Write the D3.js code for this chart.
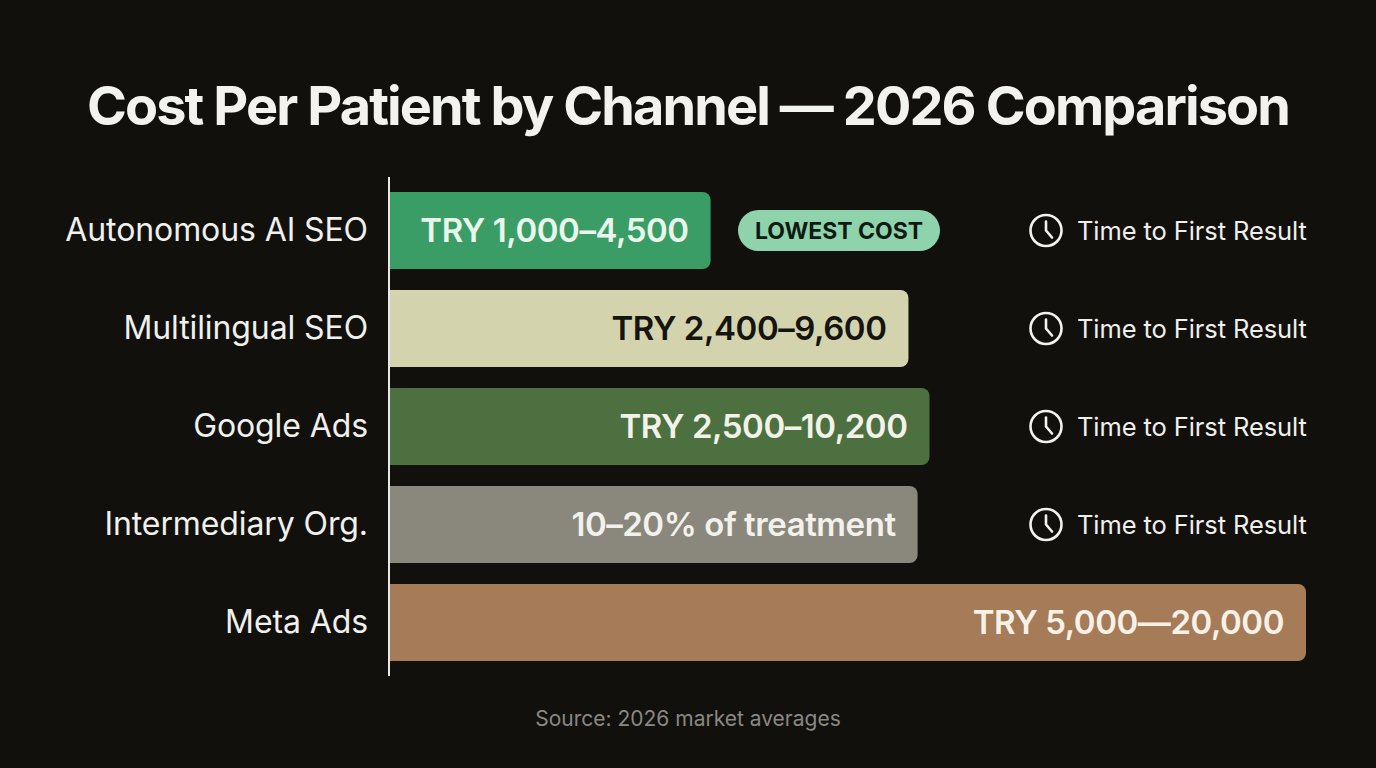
<!DOCTYPE html>
<html>
<head>
<meta charset="utf-8">
<script src="https://cdn.jsdelivr.net/npm/d3@7/dist/d3.min.js"></script>
<style>
  html, body { margin: 0; padding: 0; background: #12100c; }
  svg { display: block; }
  text { font-family: Inter, "Noto Sans", sans-serif; }
</style>
</head>
<body>
<svg id="chart" width="1376" height="768"></svg>
<script>
// ---- data ----
const channels = ["Autonomous AI SEO", "Multilingual SEO", "Google Ads", "Intermediary Org.", "Meta Ads"];
const costLabels = ["TRY 1,000–4,500", "TRY 2,400–9,600", "TRY 2,500–10,200", "10–20% of treatment", "TRY 5,000—20,000"];
// relative bar length (Meta Ads = 100)
const barLength = [35, 56.6, 58.9, 57.6, 100];
const barColors = ["#3a9d66", "#d3d4ae", "#4d7040", "#8a877c", "#a57b58"];
const labelColors = ["#eaf6ec", "#15140f", "#f2f2e8", "#f2f1ec", "#f7f1e8"];
const showClock = [true, true, true, true, false];
const clockText = "Time to First Result";
const badgeText = "LOWEST COST";
const titleText = "Cost Per Patient by Channel — 2026 Comparison";
const sourceText = "Source: 2026 market averages";

const svg = d3.select("#chart");
const W = 1376;

svg.append("rect").attr("width", W).attr("height", 768).attr("fill", "#12100c");

// helper: fit text to a target width via letter-spacing
function fitWidth(sel, target) {
  const n = sel.text().length;
  const w = sel.node().getComputedTextLength();
  if (w > 0 && n > 1) sel.attr("letter-spacing", (target - w) / (n - 1));
}

// title
const title = svg.append("text")
  .attr("x", W / 2).attr("y", 125)
  .attr("text-anchor", "middle")
  .attr("fill", "#f2f2ee")
  .attr("font-size", 54)
  .attr("font-weight", 700)
  .text(titleText);
fitWidth(title, 1204);

// scales
const x = d3.scaleLinear().domain([0, 100]).range([390, 1306]);
const y = d3.scaleBand().domain(channels).range([181.5, 671.5])
  .paddingInner(0.214).paddingOuter(0.107);

const rows = channels.map((c, i) => ({
  name: c, len: barLength[i], label: costLabels[i],
  color: barColors[i], tcolor: labelColors[i], clock: showClock[i], i
}));

// bars
svg.append("g").selectAll("rect").data(rows).join("rect")
  .attr("x", x(0))
  .attr("y", d => y(d.name))
  .attr("width", d => x(d.len) - x(0))
  .attr("height", y.bandwidth())
  .attr("rx", 8)
  .attr("fill", d => d.color);

// square off left corners
svg.append("g").selectAll("rect").data(rows).join("rect")
  .attr("x", x(0))
  .attr("y", d => y(d.name))
  .attr("width", 12)
  .attr("height", y.bandwidth())
  .attr("fill", d => d.color);

// value labels inside bars
svg.append("g").selectAll("text").data(rows).join("text")
  .attr("x", d => x(d.len) - 22)
  .attr("y", d => y(d.name) + y.bandwidth() / 2)
  .attr("dy", "0.36em")
  .attr("text-anchor", "end")
  .attr("fill", d => d.tcolor)
  .attr("font-size", 33)
  .attr("font-weight", 600)
  .attr("letter-spacing", -0.45)
  .text(d => d.label);

// category axis
const yAxis = d3.axisLeft(y).tickSize(0).tickPadding(21);
const ga = svg.append("g").attr("transform", `translate(${x(0) - 1},0)`).call(yAxis);
ga.select(".domain").remove();
ga.selectAll("text")
  .attr("fill", "#f0f0ec")
  .attr("font-size", 32)
  .attr("font-weight", 400)
  .attr("letter-spacing", -0.1)
  .attr("font-family", "Inter, 'Noto Sans', sans-serif");

svg.append("line")
  .attr("x1", x(0) - 1).attr("x2", x(0) - 1)
  .attr("y1", 177).attr("y2", 676)
  .attr("stroke", "#e8e8e4").attr("stroke-width", 2);

// badge
const first = rows[0];
const by = y(first.name) + y.bandwidth() / 2;
svg.append("rect")
  .attr("x", 738).attr("y", by - 20.5)
  .attr("width", 202).attr("height", 41)
  .attr("rx", 20.5)
  .attr("fill", "#8fd3ad");
const bt = svg.append("text")
  .attr("x", 839).attr("y", by)
  .attr("dy", "0.36em")
  .attr("text-anchor", "middle")
  .attr("fill", "#0f1a12")
  .attr("font-size", 23)
  .attr("font-weight", 700)
  .text(badgeText);
fitWidth(bt, 168);

// clocks + text
const cg = svg.append("g").selectAll("g").data(rows.filter(d => d.clock)).join("g")
  .attr("transform", d => `translate(1046,${y(d.name) + y.bandwidth() / 2})`);
cg.append("circle").attr("r", 15.5).attr("fill", "none")
  .attr("stroke", "#f2f2ee").attr("stroke-width", 2.6);
cg.append("path").attr("d", "M0,-9 L0,0 L6,7").attr("fill", "none")
  .attr("stroke", "#f2f2ee").attr("stroke-width", 2.6)
  .attr("stroke-linecap", "round").attr("stroke-linejoin", "round");
cg.append("text")
  .attr("x", 31).attr("dy", "0.36em")
  .attr("fill", "#efefeb")
  .attr("font-size", 25.5)
  .attr("font-weight", 400)
  .attr("letter-spacing", -0.1)
  .text(clockText);

// source
svg.append("text")
  .attr("x", W / 2).attr("y", 726)
  .attr("text-anchor", "middle")
  .attr("fill", "#8a8884")
  .attr("font-size", 21)
  .text(sourceText);
</script>
</body>
</html>
